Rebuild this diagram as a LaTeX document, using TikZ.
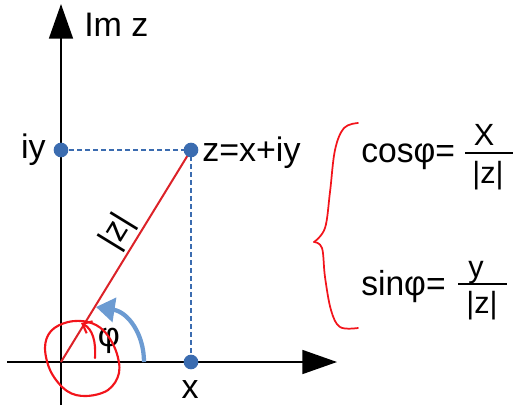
\documentclass[tikz,border=0pt]{standalone}
\usepackage{fontspec}
\setmainfont{Liberation Sans}
\usetikzlibrary{arrows.meta,positioning}
\definecolor{dotblue}{HTML}{3B6CB0}
\definecolor{arcblue}{HTML}{6C9BD2}
\definecolor{penred}{HTML}{F2141B}
\definecolor{modred}{HTML}{DC2228}

\begin{document}
\begin{tikzpicture}[x=0.75pt,y=-0.75pt,
  lbl/.style={font=\fontsize{25.5}{28}\selectfont,inner sep=0pt},
  eqn/.style={font=\fontsize{26}{28}\selectfont,inner sep=0pt},
  frac/.style={font=\fontsize{23}{25}\selectfont,inner sep=0pt},
  dot/.style={circle,fill=dotblue,inner sep=0pt,minimum size=11pt},
  guide/.style={dotblue,line width=1.4pt,dash pattern=on 3.5pt off 2.5pt},
  axis/.style={line width=1.2pt,-{Triangle[length=26pt,width=18pt]}},
  pen/.style={penred,line width=1.3pt,line cap=round,line join=round}]
 \useasboundingbox (0,0) rectangle (515,405);
 % axes
 \coordinate (o) at (61,362);
 \coordinate (xl) at (7,362);
 \coordinate (xr) at (337,362);
 \coordinate (yb) at (61,405);
 \coordinate (yt) at (61,4);
 \draw[axis] (xl) -- (xr);
 \draw[axis] (yb) -- (yt);
 \node[lbl,anchor=base west] (imz) at (84,36) {Im z};
 % the point z and its projections
 \coordinate (pz) at (191,150);
 \coordinate (piy) at (61,150);
 \coordinate (px) at (191,362);
 \draw[guide] (piy) -- (pz) -- (px);
 \draw[modred,line width=1.5pt] (o) -- (pz);
 \node[dot] (z) at (pz) {};
 \node[dot] (iy) at (piy) {};
 \node[dot] (x) at (px) {};
 \node[lbl,anchor=base east] (iylbl) at (46,158) {iy};
 \node[lbl,anchor=base west] (zlbl) at (202,161) {z=x+iy};
 \node[lbl,anchor=base] (xlbl) at (190,398) {x};
 \node[lbl,rotate=58.5] (modlbl) at (118,232) {|z|};
 % angle
 \coordinate (arcstart) at (144,362);
 \coordinate (arcend) at (96,307);
 \draw[arcblue,line width=3.2pt,-{Triangle[length=14pt,width=18pt]}]
   (arcstart) .. controls (144,334) and (128,312) .. (arcend);
 \node[lbl] (phi) at (109,341) {φ};
 % hand-drawn marks
 \draw[pen,line width=1.6pt] plot[smooth cycle,tension=0.6] coordinates
   {(88,322) (68,322) (51,331) (45,348) (51,372) (67,391) (86,396) (108,390) (119,373) (116,351) (104,331)};
 \draw[pen,line width=1.6pt,-{Straight Barb[length=6pt,width=10pt]}]
   (95,358) .. controls (96,342) and (93,329) .. (81,323);
 \draw[pen] plot[smooth,tension=0.6] coordinates
   {(358,123) (344,128) (335,150) (330,192) (325,228) (314,242)};
 \draw[pen] plot[smooth,tension=0.6] coordinates
   {(314,242) (322,248) (325,277) (331,310) (340,327) (358,328)};
 % formulas
 \node[eqn,anchor=base west] (cos) at (361,162) {\scalebox{0.97}[1]{cosφ=}};
 \node[frac,anchor=base] (cnum) at (484,145) {X};
 \node[frac,anchor=base] (cden) at (488,183) {|z|};
 \draw[line width=1.3pt] (465,153) coordinate (cbl) -- (513,153) coordinate (cbr);
 \node[eqn,anchor=base west] (sin) at (361,295) {\scalebox{0.97}[1]{sinφ=}};
 \node[frac,anchor=base] (snum) at (476,277) {y};
 \node[frac,anchor=base] (sden) at (482,313) {|z|};
 \draw[line width=1.3pt] (458,284) coordinate (sbl) -- (507,284) coordinate (sbr);
\end{tikzpicture}
\end{document}
